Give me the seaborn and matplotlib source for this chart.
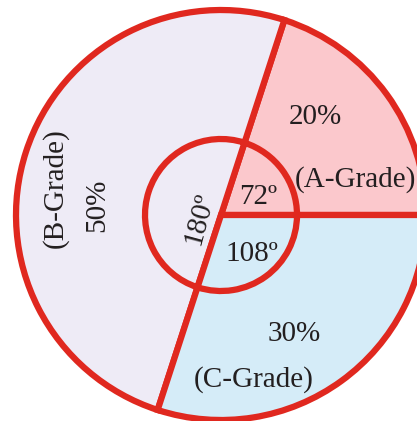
import matplotlib
matplotlib.use("Agg")
import matplotlib.pyplot as plt
import seaborn as sns

# grade shares (percent) and the angles they give
grades = ["A-Grade", "B-Grade", "C-Grade"]
shares = [20, 50, 30]
angles = ["72º", "180º", "108º"]
colors = ["#FBC8CC", "#EEEBF6", "#D5ECF8"]
edge = "#E0281F"

sns.set_theme(style="white")
plt.rcParams['font.family'] = ['Liberation Serif', 'DejaVu Serif']

fig = plt.figure(figsize=(4.17, 4.21), dpi=100)
ax = fig.add_axes([0, 0, 1, 1])

cx, cy = 221, 215
wp = dict(edgecolor=edge, linewidth=4.5)

# y axis is flipped, so clockwise here draws counter-clockwise on screen
ax.pie(shares, colors=colors, radius=205, center=(cx, cy), startangle=0,
       counterclock=False, wedgeprops=wp, frame=True)
ax.pie(shares, colors=colors, radius=76, center=(cx, cy), startangle=0,
       counterclock=False, wedgeprops=wp, frame=True)
ax.set_xlim(0, 417)
ax.set_ylim(421, 0)
ax.set_aspect('equal')
ax.axis('off')

tc = "#231F20"
fs = 21
ax.text(315, 117, f"{shares[0]}%", fontsize=fs, color=tc, ha='center', va='center')
ax.text(355, 180, f"({grades[0]})", fontsize=fs, color=tc, ha='center', va='center')
ax.text(97, 205, f"{shares[1]}%", fontsize=fs, color=tc, ha='center', va='center', rotation=90)
ax.text(55, 188, f"({grades[1]})", fontsize=fs, color=tc, ha='center', va='center', rotation=90)
ax.text(294, 334, f"{shares[2]}%", fontsize=fs, color=tc, ha='center', va='center')
ax.text(254, 380, f"({grades[2]})", fontsize=fs, color=tc, ha='center', va='center')

ax.text(258, 197, angles[0], fontsize=fs, color=tc, ha='center', va='center')
ax.text(200, 219, angles[1], fontsize=fs, color=tc, ha='center', va='center', rotation=75)
ax.text(252, 254, angles[2], fontsize=fs, color=tc, ha='center', va='center')

fig.savefig("out.png", dpi=100)
